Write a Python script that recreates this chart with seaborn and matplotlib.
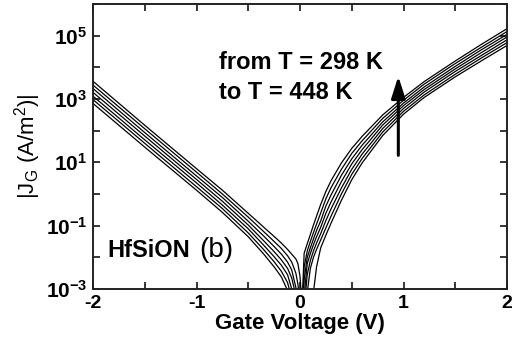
import numpy as np
import pandas as pd
import matplotlib
matplotlib.use("Agg")
import matplotlib.pyplot as plt
import seaborn as sns

# Gate voltage sweep (V)
gate_voltage = [-2.0, -1.5, -1.0, -0.75, -0.5, -0.35, -0.25, -0.18, -0.12, -0.08,
                -0.04, -0.02, 0.0, 0.02, 0.04, 0.07, 0.1, 0.13, 0.16, 0.2,
                0.25, 0.3, 0.4, 0.5, 0.6, 0.8, 1.0, 1.2, 1.5, 1.75, 2.0]

# Measurement temperatures (K)
temperatures = [298, 323, 348, 373, 398, 423, 448]

# log10 |J_G| (A/m^2) for each temperature
log_jg_298 = [2.86, 1.48, 0.12, -0.58, -1.35, -1.90, -2.30, -2.62, -3.05, -3.6,
              -4, -4, -4, -4, -4, -4, -4, -3.1, -2.3, -1.70,
              -1.30, -0.92, -0.20, 0.45, 0.98, 1.85, 2.52, 3.05, 3.70, 4.20, 4.69]
log_jg_323 = [2.98, 1.60, 0.23, -0.46, -1.23, -1.76, -2.14, -2.44, -2.80, -3.3,
              -4, -4, -4, -4, -4, -3.1, -2.35, -2.0, -1.75, -1.45,
              -1.07, -0.70, 0.0, 0.62, 1.12, 1.96, 2.61, 3.13, 3.78, 4.29, 4.78]
log_jg_348 = [3.09, 1.71, 0.35, -0.35, -1.10, -1.62, -1.98, -2.25, -2.55, -3.0,
              -3.8, -4, -4, -4, -3.6, -2.55, -2.10, -1.80, -1.55, -1.25,
              -0.84, -0.47, 0.19, 0.78, 1.26, 2.07, 2.70, 3.22, 3.87, 4.37, 4.87]
log_jg_373 = [3.21, 1.83, 0.46, -0.23, -0.98, -1.48, -1.82, -2.08, -2.35, -2.65,
              -3.2, -3.8, -4, -4, -3.2, -2.2, -1.88, -1.60, -1.35, -1.05,
              -0.61, -0.25, 0.39, 0.95, 1.40, 2.18, 2.79, 3.30, 3.95, 4.46, 4.96]
log_jg_398 = [3.33, 1.94, 0.57, -0.11, -0.86, -1.33, -1.66, -1.90, -2.15, -2.4,
              -2.95, -3.4, -4, -4, -2.7, -2.0, -1.70, -1.42, -1.15, -0.85,
              -0.38, -0.03, 0.59, 1.11, 1.54, 2.28, 2.87, 3.38, 4.03, 4.55, 5.04]
log_jg_423 = [3.44, 2.06, 0.69, 0.0, -0.73, -1.19, -1.50, -1.72, -1.95, -2.15,
              -2.5, -2.85, -3.4, -4, -2.3, -1.80, -1.50, -1.22, -0.95, -0.60,
              -0.15, 0.20, 0.78, 1.28, 1.68, 2.39, 2.96, 3.47, 4.12, 4.63, 5.13]
log_jg_448 = [3.56, 2.17, 0.80, 0.12, -0.61, -1.05, -1.34, -1.55, -1.75, -1.90,
              -2.05, -2.2, -2.6, -3.5, -1.87, -1.57, -1.28, -0.98, -0.70, -0.33,
              0.08, 0.42, 0.98, 1.44, 1.82, 2.50, 3.05, 3.55, 4.20, 4.72, 5.22]

log_series = [log_jg_298, log_jg_323, log_jg_348, log_jg_373,
              log_jg_398, log_jg_423, log_jg_448]

y_tick_exponents = [-3, -2, -1, 0, 1, 2, 3, 4, 5, 6]
x_ticks = [-2, -1.5, -1, -0.5, 0, 0.5, 1, 1.5, 2]

frames = []
for temp, logs in zip(temperatures, log_series):
    frames.append(pd.DataFrame({"V": gate_voltage,
                                "J": np.power(10.0, logs),
                                "T": temp}))
df = pd.concat(frames, ignore_index=True)

sns.set_theme(style="ticks")
plt.rcParams["font.family"] = ["Liberation Sans", "DejaVu Sans"]
plt.rcParams["mathtext.fontset"] = "custom"
plt.rcParams["mathtext.rm"] = "Liberation Sans"
plt.rcParams["mathtext.bf"] = "Liberation Sans:bold"
plt.rcParams["mathtext.it"] = "Liberation Sans:italic"
plt.rcParams["axes.unicode_minus"] = False
for key in ("text.color", "axes.labelcolor", "xtick.color", "ytick.color"):
    plt.rcParams[key] = "black"

fig = plt.figure(figsize=(5.27, 3.52), dpi=100)
ax = fig.add_axes([93 / 527, 1 - 289 / 352, (507 - 93) / 527, (289 - 4) / 352])

sns.lineplot(data=df, x="V", y="J", hue="T", palette=["black"] * len(temperatures),
             estimator=None, legend=False, linewidth=0.9, ax=ax)

ax.set_yscale("log")
ax.set_xlim(-2, 2)
ax.set_ylim(1e-3, 1e6)

ax.set_xticks(x_ticks)
ax.set_xticklabels([f"{t:g}" if float(t).is_integer() else "" for t in x_ticks],
                   fontsize=14, fontweight="bold")
ax.set_yticks([10.0 ** e for e in y_tick_exponents])
ax.set_yticklabels([rf"$\mathbf{{10^{{{e}}}}}$" if e % 2 else "" for e in y_tick_exponents],
                   fontsize=15)
ax.minorticks_off()
ax.tick_params(axis="both", which="major", direction="in", length=5, width=1.1,
               top=True, right=True, pad=4, colors="black")

for spine in ax.spines.values():
    spine.set_linewidth(1.4)
    spine.set_color("#222222")

ax.set_xlabel("Gate Voltage (V)", fontsize=16, fontweight="bold", labelpad=1)
ax.set_ylabel(r"|J$_\mathrm{G}$ (A/m$^2$)|", fontsize=16, labelpad=2)

ax.text(-0.78, 10 ** 4.15, "from T = 298 K", fontsize=17, fontweight="bold",
        va="center", ha="left")
ax.text(-0.78, 10 ** 3.2, "to T = 448 K", fontsize=17, fontweight="bold",
        va="center", ha="left")
ax.annotate("", xy=(0.95, 10 ** 3.72), xytext=(0.95, 10 ** 1.22),
            arrowprops=dict(arrowstyle="-|>,head_length=1.1,head_width=0.35",
                            lw=2.2, color="black", shrinkA=0, shrinkB=0))

ax.text(-1.86, 10 ** -1.77, "HfSiON", fontsize=17, fontweight="bold",
        va="center", ha="left")
ax.text(-0.97, 10 ** -1.77, "(b)", fontsize=20, va="center", ha="left")

fig.savefig("out.png", dpi=100, facecolor="white")
